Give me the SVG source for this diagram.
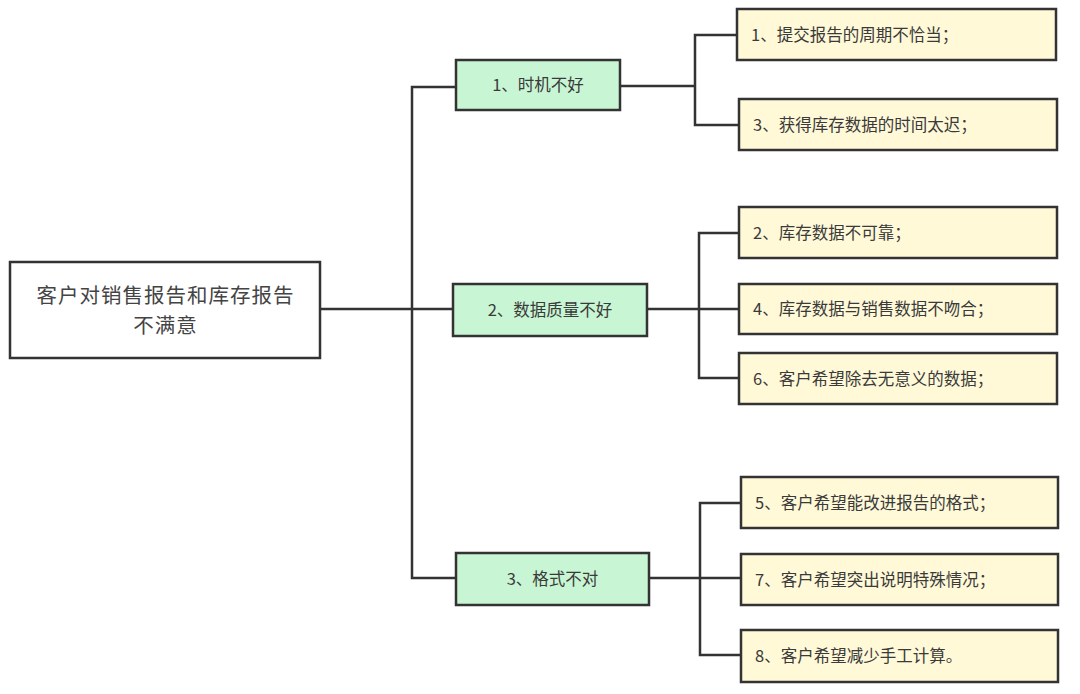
<svg xmlns="http://www.w3.org/2000/svg" width="1080" height="694" viewBox="0 0 1080 694">
<style>
.root{fill:#ffffff;stroke:#333333;stroke-width:2.5}
.mid{fill:#c8f5d3;stroke:#333333;stroke-width:2.5}
.leaf{fill:#fff9d8;stroke:#333333;stroke-width:2.5}
.conn{fill:none;stroke:#333333;stroke-width:2.5}
text{font-family:"Noto Sans CJK SC","Noto Sans",sans-serif;fill:#3a3a3a}
.t{font-size:16.5px}
.c{text-anchor:middle}
.rt{font-size:20.5px;fill:#444444;text-anchor:middle;letter-spacing:1px}
</style>
<rect width="1080" height="694" fill="#ffffff"/>
<g id="connectors">
<path class="conn" d="M320 309H453"/>
<path class="conn" d="M456 87H412V578H456"/>
<path class="conn" d="M620 86H695"/>
<path class="conn" d="M737 35H695V125H739"/>
<path class="conn" d="M647 309H739"/>
<path class="conn" d="M739 233H699V378H739"/>
<path class="conn" d="M649 578H741"/>
<path class="conn" d="M741 503H700V655H741"/>
</g>
<g id="root">
<rect class="root" x="10" y="262" width="310" height="96"/>
<text class="rt" x="165.5" y="303">客户对销售报告和库存报告</text>
<text class="rt" x="165.5" y="333">不满意</text>
</g>
<g id="n1">
<rect class="mid" x="456" y="60" width="164" height="50"/>
<text class="t c" x="538" y="91">1、时机不好</text>
</g>
<g id="n2">
<rect class="mid" x="453" y="284" width="194" height="52"/>
<text class="t c" x="550" y="315.5">2、数据质量不好</text>
</g>
<g id="n3">
<rect class="mid" x="456" y="553" width="193" height="52"/>
<text class="t c" x="552.5" y="584.5">3、格式不对</text>
</g>
<g id="l1">
<rect class="leaf" x="737" y="9" width="319" height="51"/>
<text class="t" x="751" y="40.5">1、提交报告的周期不恰当；</text>
</g>
<g id="l3">
<rect class="leaf" x="739" y="99" width="318" height="51"/>
<text class="t" x="753" y="130.5">3、获得库存数据的时间太迟；</text>
</g>
<g id="l2">
<rect class="leaf" x="739" y="207" width="318" height="51"/>
<text class="t" x="753" y="238.5">2、库存数据不可靠；</text>
</g>
<g id="l4">
<rect class="leaf" x="739" y="284" width="318" height="50"/>
<text class="t" x="753" y="315">4、库存数据与销售数据不吻合；</text>
</g>
<g id="l6">
<rect class="leaf" x="739" y="353" width="318" height="51"/>
<text class="t" x="753" y="384.5">6、客户希望除去无意义的数据；</text>
</g>
<g id="l5">
<rect class="leaf" x="741" y="477" width="317" height="51"/>
<text class="t" x="755" y="508.5">5、客户希望能改进报告的格式；</text>
</g>
<g id="l7">
<rect class="leaf" x="741" y="554" width="317" height="51"/>
<text class="t" x="755" y="585.5">7、客户希望突出说明特殊情况；</text>
</g>
<g id="l8">
<rect class="leaf" x="741" y="630" width="317" height="52"/>
<text class="t" x="755" y="661.5">8、客户希望减少手工计算。</text>
</g>
</svg>
